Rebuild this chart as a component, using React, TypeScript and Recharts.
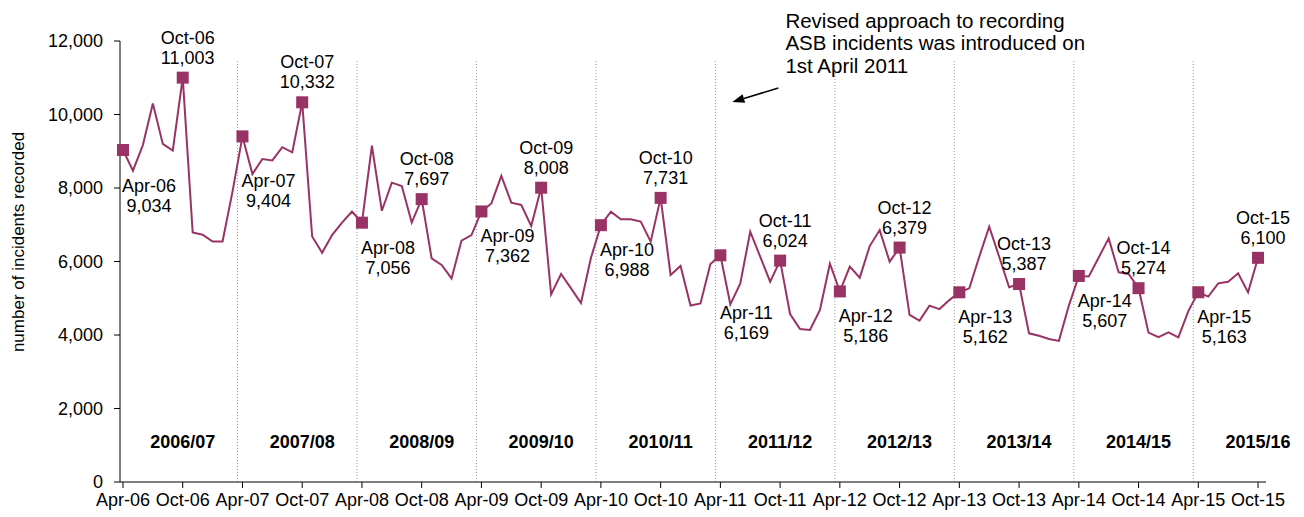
import { LineChart, Line, XAxis, YAxis, ReferenceLine, ReferenceDot } from "recharts";

// half-yearly tick labels, Apr-06 .. Oct-15 (one every 6 months)
const tickLabels = [
  "Apr-06", "Oct-06", "Apr-07", "Oct-07", "Apr-08", "Oct-08", "Apr-09", "Oct-09", "Apr-10", "Oct-10",
  "Apr-11", "Oct-11", "Apr-12", "Oct-12", "Apr-13", "Oct-13", "Apr-14", "Oct-14", "Apr-15", "Oct-15",
];

// monthly ASB incidents recorded, Apr-06 .. Oct-15
const incidents = [
  9034, 8470, 9170, 10300, 9200, 9020, 11003, 6790, 6730, 6545, 6545, 7900,
  9404, 8380, 8790, 8750, 9110, 8970, 10332, 6680, 6240, 6720, 7060, 7360,
  7056, 9150, 7380, 8145, 8055, 7060, 7697, 6085, 5905, 5540, 6570, 6720,
  7362, 7580, 8330, 7600, 7540, 6965, 8008, 5105, 5660, 5270, 4870, 6100,
  6988, 7355, 7150, 7150, 7085, 6540, 7731, 5635, 5880, 4800, 4860, 5930,
  6169, 4835, 5405, 6810, 6130, 5450, 6024, 4570, 4165, 4135, 4680, 5940,
  5186, 5860, 5560, 6420, 6855, 5995, 6379, 4545, 4390, 4800, 4705, 4950,
  5162, 5270, 6130, 6950, 6130, 5300, 5387, 4045, 3980, 3890, 3840, 4800,
  5607, 5590, 6110, 6630, 5705, 5660, 5274, 4065, 3940, 4070, 3937, 4650,
  5163, 5045, 5405, 5450, 5680, 5160, 6100,
];

const yearLabels = [
  "2006/07", "2007/08", "2008/09", "2009/10", "2010/11",
  "2011/12", "2012/13", "2013/14", "2014/15", "2015/16",
];

const yTicks = [0, 2000, 4000, 6000, 8000, 10000, 12000];

const annotationLines = [
  "Revised approach to recording",
  "ASB incidents was introduced on",
  "1st April 2011",
];

const PLUM = "#993366";
const FONT = "'Liberation Sans', Arial, sans-serif";

const data = incidents.map((v, i) => ({ i, v }));
const xTicks = tickLabels.map((_, k) => k * 6);
const yearBreaks = yearLabels.slice(1).map((_, k) => 11.5 + 12 * k);

const fmt = (n: number) => String(n).replace(/\B(?=(\d{3})+(?!\d))/g, ",");

// a few April labels sit lower in the original
const aprNudge: Record<string, number> = { "Apr-06": 11, "Apr-07": 20, "Apr-11": 33 };

const renderDot = (props: any) => {
  const { cx, cy, index, payload } = props;
  if (index % 6 !== 0) return <g key={`d${index}`} />;
  const name = tickLabels[index / 6];
  const isApr = name.startsWith("Apr");
  const tx = isApr ? cx + 26 : cx + 5;
  const y1 = isApr ? cy + 25 + (aprNudge[name] || 0) : cy - 40;
  return (
    <g key={`d${index}`}>
      <rect x={cx - 6} y={cy - 6} width={12} height={12} fill={PLUM} />
      <text x={tx} y={y1} textAnchor="middle" dominantBaseline="central" fontSize={18} fill="#000">
        {name}
      </text>
      <text x={tx} y={y1 + 20} textAnchor="middle" dominantBaseline="central" fontSize={18} fill="#000">
        {fmt(payload.v)}
      </text>
    </g>
  );
};

const Annotation = (props: any) => {
  const { cx, cy } = props;
  const tip = { x: cx + 17, y: cy };
  const tail = { x: cx + 63, y: cy - 14 };
  const dx = tip.x - tail.x;
  const dy = tip.y - tail.y;
  const len = Math.sqrt(dx * dx + dy * dy);
  const ux = dx / len;
  const uy = dy / len;
  const bx = tip.x - ux * 12;
  const by = tip.y - uy * 12;
  const head = `${tip.x},${tip.y} ${bx - uy * 4.5},${by + ux * 4.5} ${bx + uy * 4.5},${by - ux * 4.5}`;
  return (
    <g>
      <line x1={tail.x} y1={tail.y} x2={bx} y2={by} stroke="#000" strokeWidth={1.5} />
      <polygon points={head} fill="#000" />
      {annotationLines.map((t, k) => (
        <text key={t} x={cx + 70} y={cy - 82 + k * 22.5} dominantBaseline="central" fontSize={20.5} fill="#000">
          {t}
        </text>
      ))}
    </g>
  );
};

const YTitle = () => (
  <text
    x={18}
    y={242}
    transform="rotate(-90 18 242)"
    textAnchor="middle"
    dominantBaseline="central"
    fontSize={17}
    fill="#000"
  >
    number of incidents recorded
  </text>
);

export default function App() {
  return (
    <div style={{ position: "absolute", left: 0, top: 0, width: 1304, height: 517, background: "#fff", fontFamily: FONT }}>
      <LineChart width={1304} height={517} data={data} margin={{ top: 41, right: 38, bottom: 5, left: 0 }}>
        <XAxis
          dataKey="i"
          type="number"
          domain={[-0.3, 114.8]}
          ticks={xTicks}
          interval={0}
          tickFormatter={(v: number) => tickLabels[v / 6]}
          height={30}
          tickSize={6}
          tickMargin={5}
          stroke="#000"
          tick={{ fill: "#000", fontSize: 18 }}
        />
        <YAxis
          domain={[0, 12000]}
          ticks={yTicks}
          width={120}
          tickSize={6}
          tickMargin={11}
          tickFormatter={(v: number) => fmt(v)}
          stroke="#000"
          tick={{ fill: "#000", fontSize: 18 }}
          label={<YTitle />}
        />
        {yearBreaks.map((x) => (
          <ReferenceLine
            key={x}
            segment={[{ x, y: 0 }, { x, y: 11500 }]}
            stroke="#999"
            strokeDasharray="1 2"
          />
        ))}
        {yearLabels.map((t, k) => (
          <ReferenceDot
            key={t}
            x={6 + 12 * k}
            y={1100}
            r={0}
            fill="none"
            stroke="none"
            label={{ value: t, position: "center", fontSize: 18, fontWeight: "bold", fill: "#000" }}
          />
        ))}
        <Line
          dataKey="v"
          stroke={PLUM}
          strokeWidth={2}
          dot={renderDot}
          activeDot={false}
          isAnimationActive={false}
        />
        <ReferenceDot x={59.5} y={10340} r={0} shape={Annotation} />
      </LineChart>
    </div>
  );
}
